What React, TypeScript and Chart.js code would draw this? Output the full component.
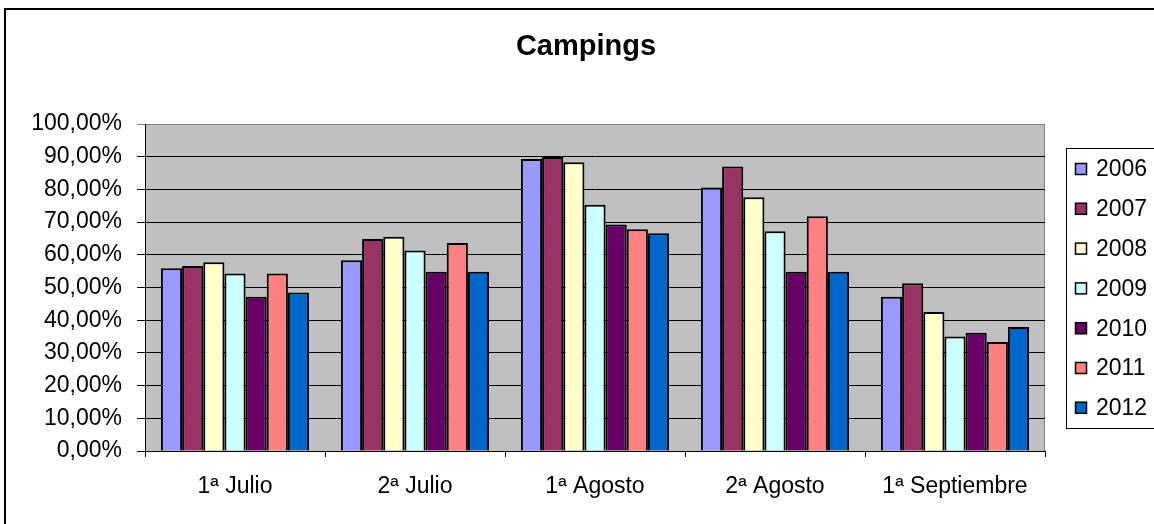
import React, { useEffect, useRef } from "react";
import { Chart, registerables } from "chart.js";

Chart.register(...registerables);

const categories = ["1ª Julio", "2ª Julio", "1ª Agosto", "2ª Agosto", "1ª Septiembre"];
const years = ["2006", "2007", "2008", "2009", "2010", "2011", "2012"];
const colors = ["#9999FF", "#993366", "#FFFFCC", "#CCFFFF", "#660066", "#FF8080", "#0066CC"];

const v2006 = [55.9, 58.3, 89.3, 80.6, 47.2];
const v2007 = [56.6, 64.8, 89.9, 87.0, 51.3];
const v2008 = [57.7, 65.5, 88.3, 77.6, 42.5];
const v2009 = [54.3, 61.3, 75.3, 67.2, 35.0];
const v2010 = [47.2, 54.8, 69.3, 54.8, 36.2];
const v2011 = [54.3, 63.6, 67.8, 71.8, 33.3];
const v2012 = [48.5, 54.8, 66.6, 54.8, 37.9];

const seriesValues = [v2006, v2007, v2008, v2009, v2010, v2011, v2012];

const FONT = "'Liberation Sans', Arial, sans-serif";

const decorPlugin = {
  id: "decor",
  beforeDraw(chart: any) {
    const { ctx, chartArea } = chart;
    ctx.save();
    ctx.fillStyle = "#ffffff";
    ctx.fillRect(0, 0, chart.width, chart.height);
    // outer border
    ctx.strokeStyle = "#000000";
    ctx.lineWidth = 2;
    ctx.strokeRect(5, 9, 1300, 700);
    // plot background
    ctx.fillStyle = "#C0C0C0";
    ctx.fillRect(chartArea.left, chartArea.top, chartArea.right - chartArea.left, chartArea.bottom - chartArea.top);
    // plot border (top/right gray)
    ctx.strokeStyle = "#808080";
    ctx.lineWidth = 1;
    ctx.beginPath();
    ctx.moveTo(chartArea.left, chartArea.top + 0.5);
    ctx.lineTo(chartArea.right - 0.5, chartArea.top + 0.5);
    ctx.lineTo(chartArea.right - 0.5, chartArea.bottom);
    ctx.stroke();
    // title
    ctx.fillStyle = "#000000";
    ctx.font = `bold 29px ${FONT}`;
    ctx.textAlign = "center";
    ctx.textBaseline = "middle";
    ctx.fillText("Campings", 586, 47);
    ctx.restore();
  },
  afterDraw(chart: any) {
    const { ctx } = chart;
    ctx.save();
    // legend box
    ctx.strokeStyle = "#000000";
    ctx.lineWidth = 1;
    ctx.strokeRect(1066.5, 148.5, 200, 280);
    ctx.font = `23px ${FONT}`;
    ctx.textAlign = "left";
    ctx.textBaseline = "middle";
    chart.data.datasets.forEach((ds: any, i: number) => {
      const cy = 169 + i * 39.8;
      ctx.fillStyle = ds.backgroundColor;
      ctx.fillRect(1075, cy - 6, 12, 12);
      ctx.strokeStyle = "#000000";
      ctx.lineWidth = 1.5;
      ctx.strokeRect(1075.5, cy - 5.5, 11, 11);
      ctx.fillStyle = "#000000";
      ctx.fillText(ds.label, 1096, cy + 1);
    });
    ctx.restore();
  },
};

export default function App() {
  const canvasRef = useRef<HTMLCanvasElement | null>(null);

  useEffect(() => {
    if (!canvasRef.current) return;
    const chart = new Chart(canvasRef.current, {
      type: "bar",
      data: {
        labels: categories,
        datasets: years.map((y, i) => ({
          label: y,
          data: seriesValues[i],
          backgroundColor: colors[i],
          borderColor: "#000000",
          borderWidth: 2,
          categoryPercentage: 0.823,
          barPercentage: 1,
        })),
      },
      options: {
        responsive: false,
        animation: false,
        devicePixelRatio: 1,
        layout: { padding: { left: 0, top: 124, right: 109, bottom: 0 } },
        plugins: {
          legend: { display: false },
          title: { display: false },
          tooltip: { enabled: false },
        },
        scales: {
          x: {
            grid: {
              display: true,
              drawOnChartArea: false,
              drawTicks: true,
              tickLength: 6,
              color: "#000000",
              offset: true,
            },
            border: { display: true, color: "#000000", width: 1 },
            ticks: {
              color: "#000000",
              font: { family: FONT, size: 23 },
              padding: 16,
              maxRotation: 0,
              autoSkip: false,
            },
            afterFit: (scale: any) => {
              scale.height = 73;
            },
          },
          y: {
            min: 0,
            max: 100,
            grid: {
              color: (c: any) => (c.tick && c.tick.value === 100 ? "#808080" : "#000000"),
              drawTicks: true,
              tickLength: 8,
            },
            border: { display: true, color: "#000000", width: 1 },
            ticks: {
              stepSize: 10,
              color: "#000000",
              font: { family: FONT, size: 23 },
              padding: 15,
              callback: (v: any) => Number(v).toFixed(2).replace(".", ",") + "%",
            },
            afterFit: (scale: any) => {
              scale.width = 145;
            },
          },
        },
      },
      plugins: [decorPlugin],
    });
    return () => chart.destroy();
  }, []);

  return (
    <div style={{ position: "absolute", left: 0, top: 0, width: 1154, height: 524, overflow: "hidden" }}>
      <canvas ref={canvasRef} width={1154} height={524} style={{ display: "block" }} />
    </div>
  );
}
